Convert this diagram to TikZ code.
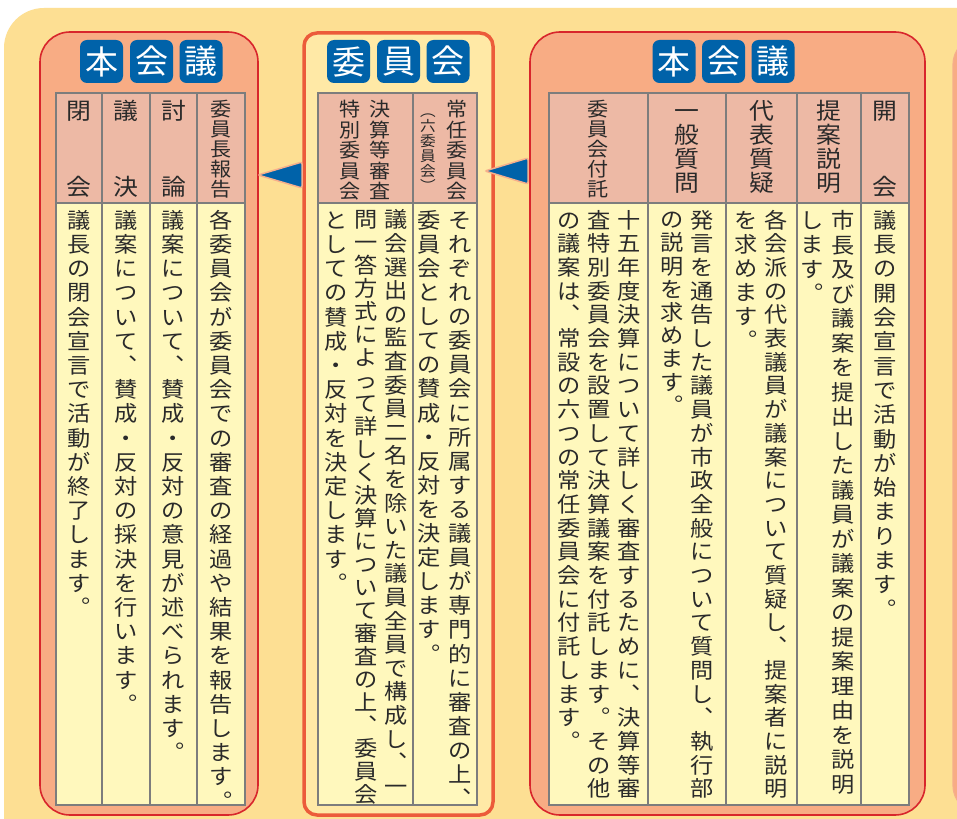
\documentclass[tikz,border=0pt]{standalone}
\usepackage{fontspec}
\newfontfamily\jpf[FakeStretch=1.08]{Noto Sans CJK JP}
\newfontfamily\jpt{Noto Sans CJK JP}
\newcommand\bodyfont{\jpf\fontsize{21.5}{21.5}\selectfont}
\newcommand\headfont{\jpf\fontsize{23}{23}\selectfont}
\newcommand\headsmall{\jpf\fontsize{19.5}{19.5}\selectfont}
\newcommand\tinyfont{\jpf\fontsize{14.5}{14.5}\selectfont}
\newcommand\titlefont{\jpt\fontsize{33}{33}\selectfont}
\definecolor{bgy}{HTML}{FDDF93}
\definecolor{salmon}{HTML}{F8AC84}
\definecolor{redline}{HTML}{D8262C}
\definecolor{ptwoline}{HTML}{EC5B3A}
\definecolor{ptwofill}{HTML}{FFE9A6}
\definecolor{headfill}{HTML}{EDB9A5}
\definecolor{bodyfill}{HTML}{FFF8BD}
\definecolor{gridc}{HTML}{7D7D7D}
\definecolor{tileblue}{HTML}{0062A9}
\definecolor{ink}{HTML}{2A2A2A}
\definecolor{arrowedge}{HTML}{F6AF8C}
\makeatletter
\newcommand\tatecell[2]{\vbox to #1{\vss\hbox to 0pt{\hss\smash{#2}\hss\vrule height .88em depth .12em width 0pt}\vss}}
\newcommand\tate[2]{\vbox{\offinterlineskip\@tfor\tc:=#2\do{\tatecell{#1}{\tc}}}}
\makeatother
\begin{document}
\begin{tikzpicture}[x=1pt,y=-1pt,
  vt/.style={anchor=north,inner sep=0pt,outer sep=0pt,text=ink},
  bodytxt/.style={vt,font=\bodyfont},
  headtxt/.style={vt,font=\headfont},
  headsm/.style={vt,font=\headsmall},
  tile/.style={fill=tileblue,rounded corners=7pt,minimum width=43pt,minimum height=43pt,inner sep=0pt,text=white,font=\titlefont},
  panelA/.style={fill=salmon,draw=redline,line width=1.6pt,rounded corners=30pt},
  panelB/.style={fill=ptwofill,draw=ptwoline,line width=3.5pt,rounded corners=13pt},
  panelC/.style={fill=salmon,draw=arrowedge,line width=1.2pt,rounded corners=30pt},
  hcell/.style={fill=headfill},
  bcell/.style={fill=bodyfill},
  grid/.style={draw=gridc,line width=1.3pt},
  marker/.style={fill=tileblue,draw=arrowedge,line width=1.5pt,rounded corners=2pt}]
\useasboundingbox (0,0) rectangle (957,818);
\fill[white] (0,0) rectangle (957,818);
\begin{scope}
\clip (0,0) rectangle (957,818);
\fill[bgy,rounded corners=40pt] (4,8) rectangle (1100,900);
\draw[panelA] (40,32) rectangle (258,815);
\draw[panelB] (304,33) rectangle (493,815);
\draw[panelA] (530,32) rectangle (925,815);
\draw[panelC] (953,35) rectangle (1100,815);
\end{scope}

% tables
\fill[hcell] (56,93) rectangle (245,203);
\fill[bcell] (56,203) rectangle (245,805);
\draw[grid] (56,93) rectangle (245,805) (56,203) -- (245,203)
  (102,93) -- (102,805) (150,93) -- (150,805) (197,93) -- (197,805);
\fill[hcell] (318,93) rectangle (477,203);
\fill[bcell] (318,203) rectangle (477,805);
\draw[grid] (318,93) rectangle (477,805) (318,203) -- (477,203) (413,93) -- (413,805);
\fill[hcell] (549,93) rectangle (909,203);
\fill[bcell] (549,203) rectangle (909,805);
\draw[grid] (549,93) rectangle (909,805) (549,203) -- (909,203)
  (648,93) -- (648,805) (726,93) -- (726,805) (797,93) -- (797,805) (861,93) -- (861,805);

% markers
\filldraw[marker] (258,175) -- (302,162) -- (302,188) -- cycle;
\filldraw[marker] (485,171) -- (528,158) -- (528,184) -- cycle;

% title tiles
\node[tile] (t1a) at (101.5,61.5) {本};
\node[tile] (t1b) at (151.5,61.5) {会};
\node[tile] (t1c) at (201,61.5) {議};
\node[tile] (t2a) at (348.5,61.5) {委};
\node[tile] (t2b) at (398.5,61.5) {員};
\node[tile] (t2c) at (448,61.5) {会};
\node[tile] (t3a) at (674,61.5) {本};
\node[tile] (t3b) at (723.5,61.5) {会};
\node[tile] (t3c) at (773,61.5) {議};

% headers panel 1
\node[headsm] (h1a) at (221,99) {\tate{20pt}{委員長報告}};
\node[headtxt] (h1b) at (173.5,73) {\tate{76pt}{討論}};
\node[headtxt] (h1c) at (126,73) {\tate{76pt}{議決}};
\node[headtxt] (h1d) at (79,73) {\tate{76pt}{閉会}};
% headers panel 2
\node[headsm] (h2a) at (457.5,99) {\tate{20.5pt}{常任委員会}};
\node[vt,font=\tinyfont] (h2b) at (428,103) {\tate{15pt}{︵六委員会︶}};
\node[headsm] (h2c) at (380,99) {\tate{20.5pt}{決算等審査}};
\node[headsm] (h2d) at (350,99) {\tate{20.5pt}{特別委員会}};
% headers panel 3
\node[headtxt] (h3a) at (885,73) {\tate{76pt}{開会}};
\node[headtxt] (h3b) at (829,99) {\tate{24pt}{提案説明}};
\node[headtxt] (h3c) at (761.5,99) {\tate{24pt}{代表質疑}};
\node[headtxt] (h3d) at (687,99) {\tate{24pt}{一般質問}};
\node[headsm] (h3e) at (598.5,99) {\tate{20pt}{委員会付託}};

% body panel 1
\node[bodytxt] (b1a) at (221,208) {\tate{24.2pt}{各委員会が委員会での審査の経過や結果を報告します︒}};
\node[bodytxt] (b1b) at (173.5,208) {\tate{24.2pt}{議案について︑賛成・反対の意見が述べられます︒}};
\node[bodytxt] (b1c) at (126,208) {\tate{24.2pt}{議案について︑賛成・反対の採決を行います︒}};
\node[bodytxt] (b1d) at (79,208) {\tate{24.2pt}{議長の閉会宣言で活動が終了します︒}};
% body panel 2
\node[bodytxt] (b2a) at (460,208) {\tate{24.1pt}{それぞれの委員会に所属する議員が専門的に審査の上︑}};
\node[bodytxt] (b2b) at (429,208) {\tate{24.1pt}{委員会としての賛成・反対を決定します︒}};
\node[bodytxt] (b2c) at (396,208) {\tate{23.6pt}{議会選出の監査委員二名を除いた議員全員で構成し︑一}};
\node[bodytxt] (b2d) at (366,208) {\tate{23pt}{問一答方式によって詳しく決算について審査の上︑委員会}};
\node[bodytxt] (b2e) at (336,208) {\tate{24.2pt}{としての賛成・反対を決定します︒}};
% body panel 3
\node[bodytxt] (b3a) at (885,208) {\tate{24.3pt}{議長の開会宣言で活動が始まります︒}};
\node[bodytxt] (b3b) at (843.5,208.5) {\tate{24.5pt}{市長及び議案を提出した議員が議案の提案理由を説明}};
\node[bodytxt] (b3c) at (812.5,208) {\tate{24.5pt}{します︒}};
\node[bodytxt] (b3d) at (776,208) {\tate{23.7pt}{各会派の代表議員が議案について質疑し︑提案者に説明}};
\node[bodytxt] (b3e) at (746,208) {\tate{24pt}{を求めます︒}};
\node[bodytxt] (b3f) at (702.5,208) {\tate{23.7pt}{発言を通告した議員が市政全般について質問し︑執行部}};
\node[bodytxt] (b3g) at (672.5,208) {\tate{23.2pt}{の説明を求めます︒}};
\node[bodytxt] (b3h) at (629,208) {\tate{23.7pt}{十五年度決算について詳しく審査するために︑決算等審}};
\node[bodytxt] (b3i) at (599,208) {\tate{23.7pt}{査特別委員会を設置して決算議案を付託します︒その他}};
\node[bodytxt] (b3j) at (569,208) {\tate{23.7pt}{の議案は︑常設の六つの常任委員会に付託します︒}};
\end{tikzpicture}
\end{document}
